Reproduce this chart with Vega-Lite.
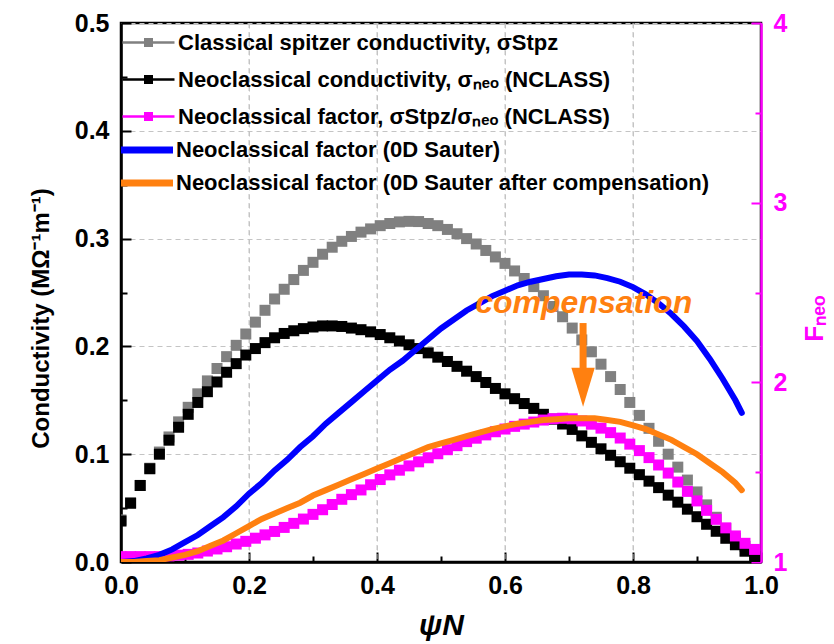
{
  "$schema": "https://vega.github.io/schema/vega-lite/v6.json",
  "width": 640,
  "height": 539,
  "autosize": {"type": "none"},
  "padding": {"left": 121, "top": 23, "right": 73, "bottom": 82},
  "background": "white",
  "config": {
    "view": {"stroke": "black", "strokeWidth": 2.5},
    "axis": {
      "labelFont": "Liberation Sans",
      "labelFontSize": 25,
      "labelFontWeight": "bold",
      "labelColor": "black",
      "titleFont": "Liberation Sans",
      "titleFontWeight": "bold",
      "titleColor": "black",
      "domainColor": "black",
      "domainWidth": 2.5,
      "tickColor": "black",
      "tickWidth": 2,
      "gridColor": "#c4c4c4",
      "gridDash": [5, 4],
      "gridWidth": 1
    },
    "legend": {
      "orient": "none",
      "direction": "vertical",
      "title": null,
      "padding": 0,
      "symbolSize": 900,
      "labelOffset": 13.5,
      "labelFont": "Liberation Sans",
      "labelFontSize": 22,
      "labelFontWeight": "bold",
      "labelColor": "black",
      "labelLimit": 700
    }
  },
  "datasets": {
    "nclass": [
      {"psi": 0, "stpz": 0.039, "neo": 0.038, "F": 1.03},
      {"psi": 0.015, "stpz": 0.055, "neo": 0.0545, "F": 1.03},
      {"psi": 0.03, "stpz": 0.071, "neo": 0.071, "F": 1.03},
      {"psi": 0.045, "stpz": 0.087, "neo": 0.0865, "F": 1.03},
      {"psi": 0.06, "stpz": 0.102, "neo": 0.1, "F": 1.03},
      {"psi": 0.075, "stpz": 0.116, "neo": 0.113, "F": 1.034},
      {"psi": 0.09, "stpz": 0.13, "neo": 0.125, "F": 1.038},
      {"psi": 0.105, "stpz": 0.1435, "neo": 0.137, "F": 1.0425},
      {"psi": 0.12, "stpz": 0.156, "neo": 0.148, "F": 1.05},
      {"psi": 0.135, "stpz": 0.168, "neo": 0.158, "F": 1.061},
      {"psi": 0.15, "stpz": 0.1795, "neo": 0.167, "F": 1.0725},
      {"psi": 0.165, "stpz": 0.1905, "neo": 0.176, "F": 1.085},
      {"psi": 0.18, "stpz": 0.201, "neo": 0.184, "F": 1.1},
      {"psi": 0.195, "stpz": 0.2115, "neo": 0.192, "F": 1.115},
      {"psi": 0.21, "stpz": 0.2225, "neo": 0.198, "F": 1.1325},
      {"psi": 0.225, "stpz": 0.2335, "neo": 0.2035, "F": 1.151},
      {"psi": 0.24, "stpz": 0.244, "neo": 0.208, "F": 1.17},
      {"psi": 0.255, "stpz": 0.253, "neo": 0.212, "F": 1.1925},
      {"psi": 0.27, "stpz": 0.262, "neo": 0.2145, "F": 1.215},
      {"psi": 0.285, "stpz": 0.2705, "neo": 0.2165, "F": 1.239},
      {"psi": 0.3, "stpz": 0.278, "neo": 0.218, "F": 1.265},
      {"psi": 0.315, "stpz": 0.2855, "neo": 0.219, "F": 1.291},
      {"psi": 0.33, "stpz": 0.292, "neo": 0.219, "F": 1.32},
      {"psi": 0.345, "stpz": 0.2975, "neo": 0.2185, "F": 1.349},
      {"psi": 0.36, "stpz": 0.302, "neo": 0.217, "F": 1.375},
      {"psi": 0.375, "stpz": 0.306, "neo": 0.2155, "F": 1.401},
      {"psi": 0.39, "stpz": 0.309, "neo": 0.2135, "F": 1.43},
      {"psi": 0.405, "stpz": 0.312, "neo": 0.211, "F": 1.459},
      {"psi": 0.42, "stpz": 0.314, "neo": 0.208, "F": 1.485},
      {"psi": 0.435, "stpz": 0.3155, "neo": 0.205, "F": 1.511},
      {"psi": 0.45, "stpz": 0.316, "neo": 0.2015, "F": 1.535},
      {"psi": 0.465, "stpz": 0.3158, "neo": 0.198, "F": 1.5575},
      {"psi": 0.48, "stpz": 0.314, "neo": 0.194, "F": 1.58},
      {"psi": 0.495, "stpz": 0.312, "neo": 0.19, "F": 1.6025},
      {"psi": 0.51, "stpz": 0.3085, "neo": 0.186, "F": 1.625},
      {"psi": 0.525, "stpz": 0.3045, "neo": 0.1815, "F": 1.6475},
      {"psi": 0.54, "stpz": 0.3, "neo": 0.177, "F": 1.67},
      {"psi": 0.555, "stpz": 0.295, "neo": 0.172, "F": 1.689},
      {"psi": 0.57, "stpz": 0.289, "neo": 0.1665, "F": 1.7075},
      {"psi": 0.585, "stpz": 0.283, "neo": 0.161, "F": 1.725},
      {"psi": 0.6, "stpz": 0.277, "neo": 0.156, "F": 1.74},
      {"psi": 0.615, "stpz": 0.27, "neo": 0.1515, "F": 1.755},
      {"psi": 0.63, "stpz": 0.263, "neo": 0.147, "F": 1.7675},
      {"psi": 0.645, "stpz": 0.2555, "neo": 0.1425, "F": 1.779},
      {"psi": 0.66, "stpz": 0.247, "neo": 0.137, "F": 1.79},
      {"psi": 0.675, "stpz": 0.237, "neo": 0.1325, "F": 1.7975},
      {"psi": 0.69, "stpz": 0.2275, "neo": 0.128, "F": 1.8},
      {"psi": 0.705, "stpz": 0.217, "neo": 0.123, "F": 1.797},
      {"psi": 0.72, "stpz": 0.206, "neo": 0.117, "F": 1.785},
      {"psi": 0.735, "stpz": 0.195, "neo": 0.111, "F": 1.767},
      {"psi": 0.75, "stpz": 0.1835, "neo": 0.105, "F": 1.745},
      {"psi": 0.765, "stpz": 0.172, "neo": 0.099, "F": 1.72},
      {"psi": 0.78, "stpz": 0.16, "neo": 0.093, "F": 1.69},
      {"psi": 0.795, "stpz": 0.148, "neo": 0.087, "F": 1.656},
      {"psi": 0.81, "stpz": 0.136, "neo": 0.081, "F": 1.62},
      {"psi": 0.825, "stpz": 0.124, "neo": 0.075, "F": 1.581},
      {"psi": 0.84, "stpz": 0.112, "neo": 0.069, "F": 1.54},
      {"psi": 0.855, "stpz": 0.1, "neo": 0.062, "F": 1.495},
      {"psi": 0.87, "stpz": 0.088, "neo": 0.0555, "F": 1.445},
      {"psi": 0.885, "stpz": 0.076, "neo": 0.049, "F": 1.393},
      {"psi": 0.9, "stpz": 0.065, "neo": 0.042, "F": 1.34},
      {"psi": 0.915, "stpz": 0.053, "neo": 0.035, "F": 1.2875},
      {"psi": 0.93, "stpz": 0.0415, "neo": 0.0285, "F": 1.2375},
      {"psi": 0.945, "stpz": 0.031, "neo": 0.022, "F": 1.19},
      {"psi": 0.96, "stpz": 0.022, "neo": 0.016, "F": 1.145},
      {"psi": 0.975, "stpz": 0.0145, "neo": 0.01, "F": 1.104},
      {"psi": 0.99, "stpz": 0.008, "neo": 0.005, "F": 1.07}
    ],
    "sauter": [
      {"psi": 0, "sauter": 1.0, "comp": 1.0},
      {"psi": 0.02, "sauter": 1.005, "comp": 1.0},
      {"psi": 0.04, "sauter": 1.02, "comp": 1.005},
      {"psi": 0.06, "sauter": 1.04, "comp": 1.01},
      {"psi": 0.08, "sauter": 1.07, "comp": 1.025},
      {"psi": 0.1, "sauter": 1.11, "comp": 1.04},
      {"psi": 0.12, "sauter": 1.15, "comp": 1.06},
      {"psi": 0.14, "sauter": 1.2, "comp": 1.09},
      {"psi": 0.16, "sauter": 1.25, "comp": 1.12},
      {"psi": 0.18, "sauter": 1.31, "comp": 1.16},
      {"psi": 0.2, "sauter": 1.38, "comp": 1.2},
      {"psi": 0.22, "sauter": 1.44, "comp": 1.24},
      {"psi": 0.24, "sauter": 1.51, "comp": 1.27},
      {"psi": 0.26, "sauter": 1.57, "comp": 1.3},
      {"psi": 0.28, "sauter": 1.64, "comp": 1.33},
      {"psi": 0.3, "sauter": 1.7, "comp": 1.37},
      {"psi": 0.32, "sauter": 1.77, "comp": 1.4},
      {"psi": 0.34, "sauter": 1.83, "comp": 1.43},
      {"psi": 0.36, "sauter": 1.89, "comp": 1.46},
      {"psi": 0.38, "sauter": 1.95, "comp": 1.49},
      {"psi": 0.4, "sauter": 2.01, "comp": 1.52},
      {"psi": 0.42, "sauter": 2.07, "comp": 1.55},
      {"psi": 0.44, "sauter": 2.12, "comp": 1.58},
      {"psi": 0.46, "sauter": 2.18, "comp": 1.61},
      {"psi": 0.48, "sauter": 2.24, "comp": 1.64},
      {"psi": 0.5, "sauter": 2.3, "comp": 1.66},
      {"psi": 0.52, "sauter": 2.35, "comp": 1.68},
      {"psi": 0.54, "sauter": 2.4, "comp": 1.7},
      {"psi": 0.56, "sauter": 2.44, "comp": 1.72},
      {"psi": 0.58, "sauter": 2.48, "comp": 1.74},
      {"psi": 0.6, "sauter": 2.51, "comp": 1.755},
      {"psi": 0.62, "sauter": 2.54, "comp": 1.77},
      {"psi": 0.64, "sauter": 2.56, "comp": 1.78},
      {"psi": 0.66, "sauter": 2.575, "comp": 1.79},
      {"psi": 0.68, "sauter": 2.59, "comp": 1.795},
      {"psi": 0.7, "sauter": 2.6, "comp": 1.8},
      {"psi": 0.72, "sauter": 2.6, "comp": 1.8},
      {"psi": 0.74, "sauter": 2.595, "comp": 1.8},
      {"psi": 0.76, "sauter": 2.58, "comp": 1.79},
      {"psi": 0.78, "sauter": 2.56, "comp": 1.78},
      {"psi": 0.8, "sauter": 2.53, "comp": 1.76},
      {"psi": 0.82, "sauter": 2.49, "comp": 1.74},
      {"psi": 0.84, "sauter": 2.44, "comp": 1.71},
      {"psi": 0.86, "sauter": 2.38, "comp": 1.68},
      {"psi": 0.88, "sauter": 2.31, "comp": 1.64},
      {"psi": 0.9, "sauter": 2.23, "comp": 1.6},
      {"psi": 0.92, "sauter": 2.13, "comp": 1.55},
      {"psi": 0.94, "sauter": 2.02, "comp": 1.5},
      {"psi": 0.96, "sauter": 1.9, "comp": 1.44},
      {"psi": 0.97, "sauter": 1.83, "comp": 1.4}
    ]
  },
  "layer": [
    {
      "data": {"values": [{}]},
      "mark": {"type": "rule", "color": "#c4c4c4", "strokeWidth": 1, "strokeDash": [5, 4]},
      "encoding": {"x": {"datum": 0.2, "type": "quantitative", "scale": {"domain": [0, 1], "nice": false, "zero": false}, "axis": null}}
    },
    {
      "data": {"values": [{}]},
      "mark": {"type": "rule", "color": "#c4c4c4", "strokeWidth": 1, "strokeDash": [5, 4]},
      "encoding": {"x": {"datum": 0.4, "type": "quantitative", "scale": {"domain": [0, 1], "nice": false, "zero": false}, "axis": null}}
    },
    {
      "data": {"values": [{}]},
      "mark": {"type": "rule", "color": "#c4c4c4", "strokeWidth": 1, "strokeDash": [5, 4]},
      "encoding": {"x": {"datum": 0.6, "type": "quantitative", "scale": {"domain": [0, 1], "nice": false, "zero": false}, "axis": null}}
    },
    {
      "data": {"values": [{}]},
      "mark": {"type": "rule", "color": "#c4c4c4", "strokeWidth": 1, "strokeDash": [5, 4]},
      "encoding": {"x": {"datum": 0.8, "type": "quantitative", "scale": {"domain": [0, 1], "nice": false, "zero": false}, "axis": null}}
    },
    {
      "data": {"name": "nclass"},
      "mark": {"type": "point", "shape": "square", "filled": true, "size": 121, "opacity": 1, "clip": true},
      "encoding": {
        "x": {
          "field": "psi", "type": "quantitative",
          "scale": {"domain": [0, 1], "nice": false, "zero": false},
          "axis": {
            "orient": "bottom",
            "values": [0, 0.2, 0.4, 0.6, 0.8, 1],
            "format": ".1f",
            "tickSize": -10,
            "labelPadding": 21,
            "labelFlush": false,
            "grid": true,
            "title": "ψN",
            "titleFontSize": 30,
            "titleFontStyle": "italic",
            "titleX": 320,
            "titleY": 72,
            "titleAlign": "center",
            "titleBaseline": "alphabetic"
          }
        },
        "y": {
          "field": "stpz", "type": "quantitative",
          "scale": {"domain": [0, 0.5], "nice": false},
          "axis": {
            "orient": "left",
            "values": [0, 0.1, 0.2, 0.3, 0.4, 0.5],
            "format": ".1f",
            "tickSize": -10,
            "labelPadding": 22,
            "grid": true,
            "title": "Conductivity (MΩ⁻¹m⁻¹)",
            "titleFontSize": 24,
            "titleAngle": -90,
            "titleX": -73,
            "titleY": 295,
            "titleAlign": "center",
            "titleBaseline": "alphabetic"
          }
        },
        "fill": {
          "datum": "Classical spitzer conductivity, σStpz",
          "type": "nominal",
          "scale": {
            "domain": [
              "Classical spitzer conductivity, σStpz",
              "Neoclassical conductivity, σₙₑₒ (NCLASS)",
              "Neoclassical factor, σStpz/σₙₑₒ (NCLASS)"
            ],
            "range": ["#808080", "#000000", "#ff00ff"]
          },
          "legend": {
            "legendX": 11.5,
            "legendY": 3.5,
            "rowPadding": 10,
            "symbolType": "M-1.733,-0.08H1.733V0.08H-1.733ZM-0.3,-0.3H0.3V0.3H-0.3Z"
          }
        }
      }
    },
    {
      "data": {"name": "nclass"},
      "mark": {"type": "point", "shape": "square", "filled": true, "size": 121, "opacity": 1, "clip": true},
      "encoding": {
        "x": {
          "field": "psi", "type": "quantitative",
          "scale": {"domain": [0, 1], "nice": false, "zero": false},
          "axis": {
            "orient": "bottom",
            "values": [0.1, 0.3, 0.5, 0.7, 0.9],
            "tickSize": -6,
            "labels": false,
            "domain": false,
            "grid": false,
            "title": null
          }
        },
        "y": {
          "field": "neo", "type": "quantitative",
          "scale": {"domain": [0, 0.5], "nice": false},
          "axis": {
            "orient": "left",
            "values": [0.05, 0.15, 0.25, 0.35, 0.45],
            "tickSize": -6,
            "labels": false,
            "domain": false,
            "grid": false,
            "title": null
          }
        },
        "fill": {
          "datum": "Neoclassical conductivity, σₙₑₒ (NCLASS)",
          "type": "nominal",
          "scale": {
            "domain": [
              "Classical spitzer conductivity, σStpz",
              "Neoclassical conductivity, σₙₑₒ (NCLASS)",
              "Neoclassical factor, σStpz/σₙₑₒ (NCLASS)"
            ],
            "range": ["#808080", "#000000", "#ff00ff"]
          },
          "legend": null
        }
      }
    },
    {
      "data": {"name": "nclass"},
      "mark": {"type": "point", "shape": "square", "filled": true, "size": 121, "opacity": 1, "clip": true},
      "encoding": {
        "x": {"field": "psi", "type": "quantitative", "scale": {"domain": [0, 1], "nice": false, "zero": false}, "axis": null},
        "y": {
          "field": "F", "type": "quantitative",
          "scale": {"domain": [1, 4], "nice": false, "zero": false},
          "axis": {
            "orient": "right",
            "values": [1, 2, 3, 4],
            "format": "d",
            "tickSize": -10,
            "labelPadding": 22,
            "grid": false,
            "domainColor": "#ff00ff",
            "tickColor": "#ff00ff",
            "labelColor": "#ff00ff",
            "titleColor": "#ff00ff",
            "title": "Fₙₑₒ",
            "titleFontSize": 26,
            "titleAngle": -90,
            "titleX": 61,
            "titleY": 295,
            "titleAlign": "center",
            "titleBaseline": "alphabetic"
          }
        },
        "fill": {
          "datum": "Neoclassical factor, σStpz/σₙₑₒ (NCLASS)",
          "type": "nominal",
          "scale": {
            "domain": [
              "Classical spitzer conductivity, σStpz",
              "Neoclassical conductivity, σₙₑₒ (NCLASS)",
              "Neoclassical factor, σStpz/σₙₑₒ (NCLASS)"
            ],
            "range": ["#808080", "#000000", "#ff00ff"]
          },
          "legend": null
        }
      }
    },
    {
      "data": {"name": "sauter"},
      "mark": {"type": "line", "strokeWidth": 6, "strokeCap": "round", "clip": true},
      "encoding": {
        "x": {"field": "psi", "type": "quantitative", "scale": {"domain": [0, 1], "nice": false, "zero": false}, "axis": null},
        "y": {
          "field": "sauter", "type": "quantitative",
          "scale": {"domain": [1, 4], "nice": false, "zero": false},
          "axis": {
            "orient": "right",
            "values": [1.5, 2.5, 3.5],
            "tickSize": -6,
            "tickColor": "#ff00ff",
            "labels": false,
            "domain": false,
            "grid": false,
            "title": null
          }
        },
        "stroke": {
          "datum": "Neoclassical factor (0D Sauter)",
          "type": "nominal",
          "scale": {
            "domain": ["Neoclassical factor (0D Sauter)", "Neoclassical factor (0D Sauter after compensation)"],
            "range": ["#0000ff", "#ff8010"]
          },
          "legend": {
            "legendX": 7.5,
            "legendY": 108.5,
            "rowPadding": 0,
            "labelOffset": 10.5,
            "symbolType": "M-1.733,0H1.733",
            "symbolStrokeWidth": 7
          }
        }
      }
    },
    {
      "data": {"name": "sauter"},
      "mark": {"type": "line", "strokeWidth": 6, "strokeCap": "round", "clip": true},
      "encoding": {
        "x": {"field": "psi", "type": "quantitative", "scale": {"domain": [0, 1], "nice": false, "zero": false}, "axis": null},
        "y": {"field": "comp", "type": "quantitative", "scale": {"domain": [1, 4], "nice": false, "zero": false}, "axis": null},
        "stroke": {
          "datum": "Neoclassical factor (0D Sauter after compensation)",
          "type": "nominal",
          "scale": {
            "domain": ["Neoclassical factor (0D Sauter)", "Neoclassical factor (0D Sauter after compensation)"],
            "range": ["#0000ff", "#ff8010"]
          },
          "legend": null
        }
      }
    },
    {
      "data": {"values": [{}]},
      "mark": {"type": "text", "text": "compensation", "font": "Liberation Sans", "fontSize": 32, "fontWeight": "bold", "fontStyle": "italic", "color": "#ff8010", "align": "center", "baseline": "alphabetic"},
      "encoding": {
        "x": {"datum": 0.723, "type": "quantitative", "scale": {"domain": [0, 1], "nice": false, "zero": false}, "axis": null},
        "y": {"datum": 2.387, "type": "quantitative", "scale": {"domain": [1, 4], "nice": false, "zero": false}, "axis": null}
      }
    },
    {
      "data": {"values": [{}]},
      "mark": {"type": "rule", "strokeWidth": 7, "color": "#ff8010"},
      "encoding": {
        "x": {"datum": 0.722, "type": "quantitative", "scale": {"domain": [0, 1], "nice": false, "zero": false}, "axis": null},
        "y": {"datum": 2.33, "type": "quantitative", "scale": {"domain": [1, 4], "nice": false, "zero": false}, "axis": null},
        "y2": {"datum": 2.06}
      }
    },
    {
      "data": {"values": [{}]},
      "mark": {"type": "point", "shape": "M-0.6,-1L0.6,-1L0,1Z", "size": 1521, "filled": true, "opacity": 1, "color": "#ff8010"},
      "encoding": {
        "x": {"datum": 0.722, "type": "quantitative", "scale": {"domain": [0, 1], "nice": false, "zero": false}, "axis": null},
        "y": {"datum": 1.972, "type": "quantitative", "scale": {"domain": [1, 4], "nice": false, "zero": false}, "axis": null}
      }
    }
  ],
  "resolve": {"scale": {"y": "independent"}, "axis": {"x": "independent", "y": "independent"}}
}
